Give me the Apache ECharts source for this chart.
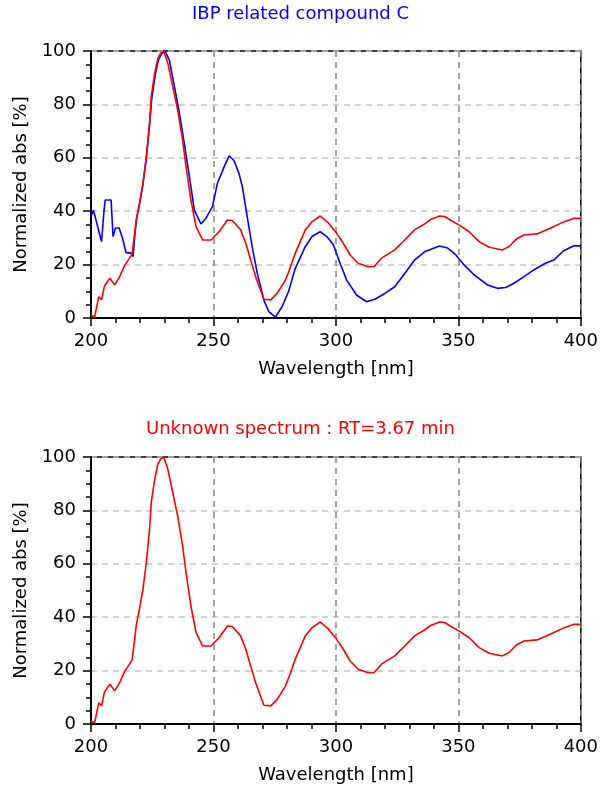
<!DOCTYPE html>
<html>
<head>
<meta charset="utf-8">
<title>UV spectra</title>
<script src="https://cdn.jsdelivr.net/npm/echarts@6/dist/echarts.min.js"></script>
<style>
  html, body { margin: 0; padding: 0; background: #ffffff; }
  #chart { width: 601px; height: 786px; }
</style>
</head>
<body>
<div id="chart"></div>
<script>
// Reference library spectrum (IBP related compound C), wavelength in nm and normalized absorbance in %
const refWavelength = [200, 201, 202.5, 204.3, 205.3, 205.8, 208.2, 209, 210, 211.5, 213, 214.3, 216.3, 217.2, 217.8, 218.6,
  219.9, 221.2, 222.6, 223.9, 224.8, 226.2, 227.5, 228.8, 230.2, 232, 234, 236.1, 238.1, 240.2, 242.2, 244.9, 246.9,
  249.6, 251.6, 254.4, 256.4, 258.4, 260.4, 261.8, 263.8, 265.8, 267.9, 270.6, 272.6, 275.3, 278, 280.7, 283.4, 287.5,
  290.2, 293.6, 296.3, 299, 301.7, 304.4, 308.4, 312.5, 315.9, 320, 324, 328.1, 332.1, 336.2, 342.3, 345.6, 349,
  352.4, 356.5, 361.9, 365.9, 369.3, 372.7, 376.8, 380.8, 385.5, 388.9, 393, 397, 400];
const refAbs = [38, 40.4, 35, 28.6, 40, 44.2, 44.2, 30.5, 33.7, 33.7, 29.5, 24.5, 24.3, 23, 30, 37,
  43, 50, 60, 72, 82, 91, 96.5, 99, 100, 96.6, 87, 76.7, 65.4, 52.9, 40.4, 35.2, 37.3,
  41.7, 50.4, 56.7, 60.7, 59, 54.2, 49.2, 37.9, 26.7, 16.7, 6.7, 2.4, 0.3, 4.2, 10, 18.6, 26.7,
  30.5, 32.3, 30.5, 27.3, 20.5, 14.2, 8.6, 6.1, 7, 9.2, 11.7, 16.7, 21.7, 24.8, 27, 26.2, 23.6,
  19.8, 16.1, 12.4, 11.1, 11.4, 13, 15.5, 18, 20.5, 21.7, 25.2, 27, 27];

// Unknown peak spectrum (RT = 3.67 min)
const unkWavelength = [200, 201.5, 202.5, 203.2, 204.3, 205.5, 207.7, 209.7, 211.7, 213.8, 215.8, 216.8, 217.6, 218.5,
  219.9, 221.2, 222.6, 223.9, 224.6, 226, 227.3, 228.5, 229.7, 231.4, 233.4, 235.4, 237.4, 238.8, 240.8, 242.9,
  245.6, 249, 252.3, 255.7, 257.7, 261.1, 263.2, 265.2, 267.2, 270.6, 273.4, 276, 279.4, 281, 283.5, 287.5, 290.2,
  293.6, 297, 300.3, 303, 305.8, 309.1, 313.2, 315.6, 318.6, 324, 328.1, 332.1, 336.2, 338.9, 342.3, 344.4, 347,
  350.4, 354.4, 358.5, 362.6, 368, 370.7, 374, 376.8, 382.1, 387.5, 393, 397, 400];
const unkAbs = [1, 0.5, 5, 8, 6.8, 12, 14.9, 12.4, 15.5, 19.8, 22.5, 24, 30, 37,
  43.6, 50.4, 60.4, 72.9, 82.9, 91.6, 97.3, 99.3, 100, 95.3, 86.6, 77.9, 66.7, 56.7, 44.2, 34.2,
  29.2, 29.2, 32.3, 36.7, 36.5, 33, 28, 21.7, 15.5, 7, 6.8, 9.2, 14.2, 18, 24.5, 33, 36,
  38.2, 35.5, 31.7, 28, 23.6, 20.5, 19.2, 19.3, 22.4, 25.5, 29.2, 33, 35.2, 37, 38.2, 38, 36.5,
  34.8, 32.3, 28.6, 26.5, 25.5, 26.8, 29.8, 31.1, 31.5, 33.6, 36, 37.3, 37.3];

const xTicks = [200, 250, 300, 350, 400];
const yTicks = [0, 20, 40, 60, 80, 100];

const topTitle = 'IBP related compound C';
const bottomTitle = 'Unknown spectrum : RT=3.67 min';
const xName = 'Wavelength [nm]';
const yName = 'Normalized abs [%]';

const FONT = 'DejaVu Sans';
const pairs = (xs, ys) => xs.map((x, i) => [x, ys[i]]);

function xAxisFor(gridIndex) {
  return {
    type: 'value', gridIndex,
    min: xTicks[0], max: xTicks[xTicks.length - 1], interval: xTicks[1] - xTicks[0],
    name: xName, nameLocation: 'middle', nameGap: 42,
    nameTextStyle: { fontFamily: FONT, fontSize: 18, color: '#000' },
    axisLine: { show: true, onZero: false, lineStyle: { color: '#000', width: 2 } },
    axisTick: { show: true, length: 8, lineStyle: { color: '#000', width: 1.5 } },
    minorTick: { show: true, splitNumber: 5, length: 5, lineStyle: { color: '#000', width: 1.5 } },
    axisLabel: { fontFamily: FONT, fontSize: 18, color: '#000', margin: 14 },
    splitLine: { show: true, lineStyle: { color: '#858585', type: [6, 5], width: 1.5 } }
  };
}

function yAxisFor(gridIndex) {
  return {
    type: 'value', gridIndex,
    min: yTicks[0], max: yTicks[yTicks.length - 1], interval: yTicks[1] - yTicks[0],
    name: yName, nameLocation: 'middle', nameGap: 58, nameRotate: 90,
    nameTextStyle: { fontFamily: FONT, fontSize: 18, color: '#000' },
    axisLine: { show: true, onZero: false, lineStyle: { color: '#000', width: 2 } },
    axisTick: { show: true, length: 8, lineStyle: { color: '#000', width: 1.5 } },
    minorTick: { show: true, splitNumber: 4, length: 5, lineStyle: { color: '#000', width: 1.5 } },
    axisLabel: { fontFamily: FONT, fontSize: 18, color: '#000', margin: 15 },
    splitLine: { show: true, lineStyle: { color: '#c4c4c4', type: [6, 5], width: 1.5 } }
  };
}

function lineSeries(data, color, idx) {
  return {
    type: 'line', xAxisIndex: idx, yAxisIndex: idx,
    data, showSymbol: false, symbol: 'none', smooth: false, animation: false,
    lineStyle: { color, width: 1.6 }
  };
}

const chart = echarts.init(document.getElementById('chart'), null, { renderer: 'canvas' });
chart.setOption({
  backgroundColor: '#ffffff',
  animation: false,
  title: [
    { text: topTitle, left: 'center', top: 0,
      textStyle: { fontFamily: FONT, fontSize: 18, fontWeight: 'normal', color: '#0000ff' } },
    { text: bottomTitle, left: 'center', top: 415,
      textStyle: { fontFamily: FONT, fontSize: 18, fontWeight: 'normal', color: '#ff0000' } }
  ],
  grid: [
    { left: 91, top: 51, width: 493, height: 267, show: true, borderColor: '#000', borderWidth: 1.5 },
    { left: 91, top: 457, width: 493, height: 267, show: true, borderColor: '#000', borderWidth: 1.5 }
  ],
  xAxis: [xAxisFor(0), xAxisFor(1)],
  yAxis: [yAxisFor(0), yAxisFor(1)],
  series: [
    lineSeries(pairs(refWavelength, refAbs), '#0000ff', 0),
    lineSeries(pairs(unkWavelength, unkAbs), '#ff0000', 0),
    lineSeries(pairs(unkWavelength, unkAbs), '#ff0000', 1)
  ]
});
</script>
</body>
</html>
